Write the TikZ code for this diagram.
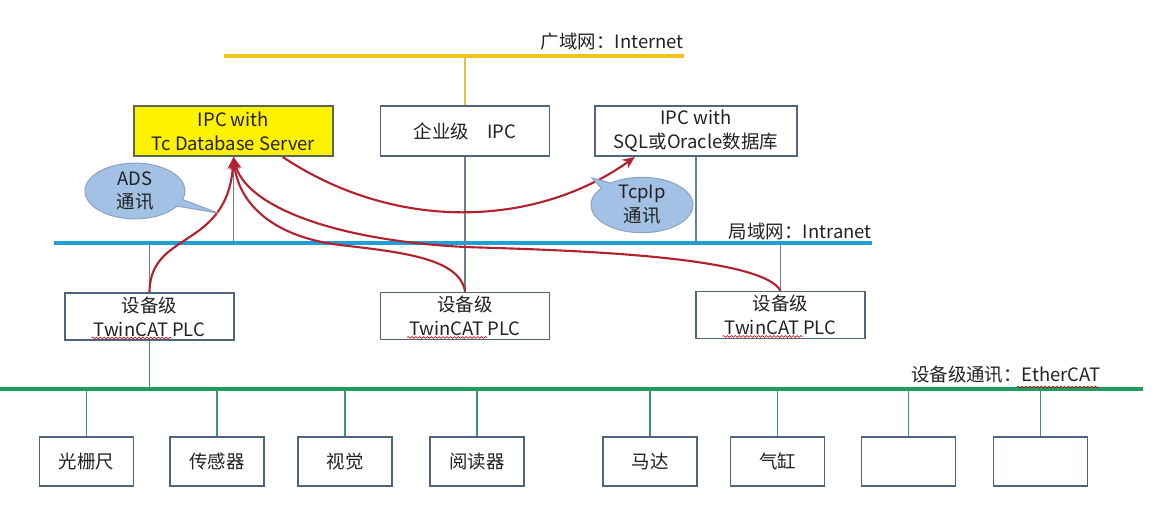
\documentclass[tikz,border=0pt]{standalone}
\usepackage{fontspec}
\setmainfont{Noto Sans CJK SC}
\usetikzlibrary{shapes.callouts,shapes.geometric,arrows.meta,decorations.pathmorphing,calc}
\definecolor{boxc}{HTML}{50647D}
\definecolor{ybox}{HTML}{5A6656}
\definecolor{txt}{HTML}{222222}
\definecolor{inetc}{HTML}{F0C419}
\definecolor{lanc}{HTML}{1E9FD6}
\definecolor{ecatc}{HTML}{1F9D5F}
\definecolor{redc}{HTML}{B3202E}
\definecolor{callfill}{HTML}{A3C1E4}
\definecolor{calldraw}{HTML}{8AA4C4}
\definecolor{stemc}{HTML}{6A8090}
\definecolor{gstemc}{HTML}{3F8F80}
\definecolor{ystemc}{HTML}{EBC040}
\begin{document}
\begin{tikzpicture}[x=0.02cm,y=-0.02cm,
  every node/.style={font=\fontsize{10.5}{13.6}\selectfont, text=txt},
  box/.style={draw=boxc, line width=1.1pt, fill=white, align=center, inner sep=0pt},
  plcbox/.style={box, minimum width=3.38cm, minimum height=0.94cm},
  devbox/.style={box, minimum width=1.88cm, minimum height=0.98cm},
  topbox/.style={box, minimum height=1cm},
  stem/.style={draw=stemc, line width=0.7pt},
  gstem/.style={draw=gstemc, line width=0.7pt},
  ystem/.style={draw=ystemc, line width=0.7pt},
  link/.style={draw=redc, line width=1.2pt, -{Stealth[length=7pt,width=6pt]}},
  bubble/.style={ellipse callout, fill=callfill, draw=calldraw, line width=0.6pt, align=center, inner sep=0pt},
  squig/.style={draw=red!80!black, line width=0.35pt, decorate, decoration={snake, amplitude=0.5pt, segment length=2.2pt}},
  buslabel/.style={anchor=east, inner sep=0pt}
]
\useasboundingbox (0,0) rectangle (1164,515);

% buses
\coordinate (inetL) at (224,56);  \coordinate (inetR) at (684,56);
\coordinate (lanL) at (54,243);   \coordinate (lanR) at (872,243);
\coordinate (ecatL) at (0,389);   \coordinate (ecatR) at (1143,389);
\draw[inetc, line width=2.3pt] (inetL) -- (inetR);
\draw[lanc, line width=2.8pt] (lanL) -- (lanR);
\draw[ecatc, line width=2.8pt] (ecatL) -- (ecatR);

\node[buslabel] (inetlab) at (684,42) {广域网：Internet};
\node[buslabel] (lanlab) at (872,231) {局域网：Intranet};
\node[buslabel] (ecatlab) at (1101,375) {设备级通讯：EtherCAT};

% top level boxes
\node[topbox, fill=yellow, draw=ybox, minimum width=3.98cm] (ipcdb) at (233.5,131) {IPC with\\Tc Database Server};
\node[topbox, minimum width=3.38cm] (ent) at (465,131) {企业级\quad IPC};
\node[topbox, minimum width=4.04cm] (sql) at (696,131) {IPC with\\SQL或Oracle数据库};

% PLC boxes
\node[plcbox] (plc1) at (149.5,316.5) {设备级\\TwinCAT PLC};
\node[plcbox] (plc2) at (465,316) {设备级\\TwinCAT PLC};
\node[plcbox] (plc3) at (780.5,315) {设备级\\TwinCAT PLC};

% device boxes
\node[devbox] (d1) at (86.5,461.5) {光栅尺};
\node[devbox] (d2) at (217,461.5) {传感器};
\node[devbox] (d3) at (345,461.5) {视觉};
\node[devbox] (d4) at (477,461.5) {阅读器};
\node[devbox] (d5) at (650,461.5) {马达};
\node[devbox] (d6) at (777.5,461.5) {气缸};
\node[devbox] (d7) at (908.5,461.5) {};
\node[devbox] (d8) at (1040.5,461.5) {};

% stems
\draw[ystem] (ent.north) -- (ent.north |- inetL);
\draw[stem] (ipcdb.south) -- (ipcdb.south |- lanL);
\draw[stem] (ent.south) -- (plc2.north);
\draw[stem] (sql.south) -- (sql.south |- lanL);
\draw[stem] (plc1.north) -- (plc1.north |- lanL);
\draw[stem] (plc3.north) -- (plc3.north |- lanL);
\draw[gstem] (plc1.south) -- (plc1.south |- ecatL);
\foreach \d in {d1,d2,d3,d4,d5,d6,d7,d8}
  \draw[gstem] (\d.north) -- (\d.north |- ecatL);

% spell-check underlines
\foreach \p in {plc1,plc2,plc3}
  \draw[squig] ($(\p.south)+(-58,-3)$) -- ($(\p.south)+(22,-3)$);
\draw[squig] ($(ecatlab.south east)+(-84,3)$) -- ($(ecatlab.south east)+(-2,3)$);

% red communication curves
\draw[link] (plc1.north) .. controls (150,230) and (228,250) .. (ipcdb.south);
\draw[link] (plc2.north) .. controls (460,258) and (400,252) .. (340,245)
            .. controls (268,236) and (238,200) .. (ipcdb.south);
\draw[link] (plc3.north) .. controls (760,255) and (560,250) .. (465,247)
            .. controls (330,240) and (245,205) .. (ipcdb.south);
\draw[link] ($(ipcdb.south west)!0.745!(ipcdb.south east)$)
            .. controls (400,235) and (540,225) .. ($(sql.south west)!0.2!(sql.south east)$);

% callouts
\node[bubble, minimum width=2cm, minimum height=1.04cm, callout absolute pointer={(218,213)}] (ads) at (135,191) {ADS\\通讯};
\node[bubble, minimum width=2.04cm, minimum height=1cm, callout absolute pointer={(592,178)}] (tcp) at (642,205) {TcpIp\\通讯};
\end{tikzpicture}
\end{document}
